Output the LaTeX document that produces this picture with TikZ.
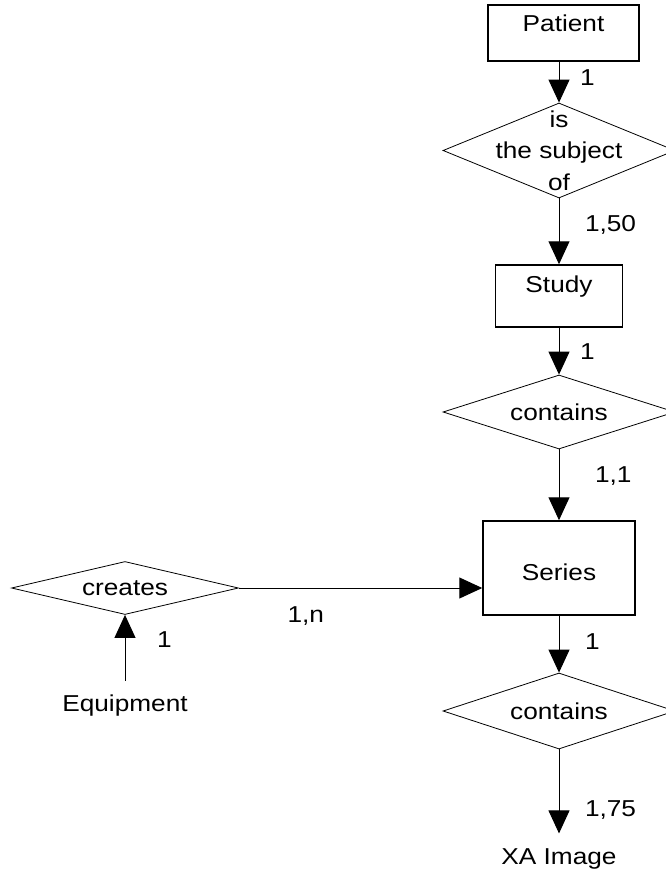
\documentclass[tikz,border=0pt]{standalone}
\usepackage{fontspec}
\setmainfont{Liberation Sans}[FakeStretch=1.14]
\usetikzlibrary{shapes.geometric,arrows.meta}

\begin{document}
\begin{tikzpicture}[x=1pt, y=-1pt,
  every node/.style={font=\fontsize{23}{31.5}\selectfont},
  entity node/.style={rectangle, draw, line width=1.5pt, inner sep=0pt},
  relation node/.style={diamond, draw, line width=0.8pt, inner sep=0pt},
  plain node/.style={inner xsep=0pt, inner ysep=14pt, text height=16.8pt, text depth=0pt},
  card/.style={anchor=west, inner sep=0pt, text height=16.5pt, text depth=0pt},
  link/.style={-{Triangle[length=23pt, width=21pt]}, line width=1pt}]
\useasboundingbox (0,0) rectangle (665,875);

% entities
\node[entity node, minimum width=151pt, text height=27pt, text depth=29pt] (pat) at (563.5,33) {Patient};
\node[entity node, minimum width=127pt, text height=27pt, text depth=35pt] (stu) at (559,296) {Study};
\node[entity node, minimum width=152pt, text height=59pt, text depth=35pt] (ser) at (559,568) {Series};

% relations
\node[relation node, minimum width=232pt, minimum height=95pt,
  label={[align=center]center:is\\the subject\\of}] (rel1) at (559,150.5) {};
\node[relation node, minimum width=232pt, minimum height=74pt,
  label={center:contains}] (rel2) at (559,412) {};
\node[relation node, minimum width=232pt, minimum height=76pt,
  label={center:contains}] (rel3) at (559,711) {};
\node[relation node, minimum width=227pt, minimum height=53pt,
  label={center:creates}] (cre) at (125,588) {};

% others
\node[plain node] (equ) at (125,703.5) {Equipment};
\node[plain node] (xa) at (559,856) {XA Image};

\path
% patient -> study
(pat.south -| rel1) [link] edge node[card, pos=.38, xshift=20.5pt] {1} (rel1)
(rel1) [link] edge node[card, pos=.37, xshift=25.5pt] {1,50} (stu)

% study -> series
(stu) [link] edge node[card, pos=.5, xshift=20.5pt] {1} (rel2)
(rel2) [link] edge node[card, pos=.35, xshift=35.5pt] {1,1} (ser)

% series -> image
(ser) [link] edge node[card, pos=.45, xshift=25.5pt] {1} (rel3)
(rel3) [link] edge node[card, pos=.70, xshift=25.5pt] {1,75} (xa)

% equipment -> series
(equ) [link] edge node[card, pos=.63, xshift=31.5pt] {1} (cre)
(cre.east) [link] edge node[card, anchor=north, pos=.275, yshift=-17pt] {1,n} (cre.east -| ser.west)
;

\end{tikzpicture}
\end{document}
